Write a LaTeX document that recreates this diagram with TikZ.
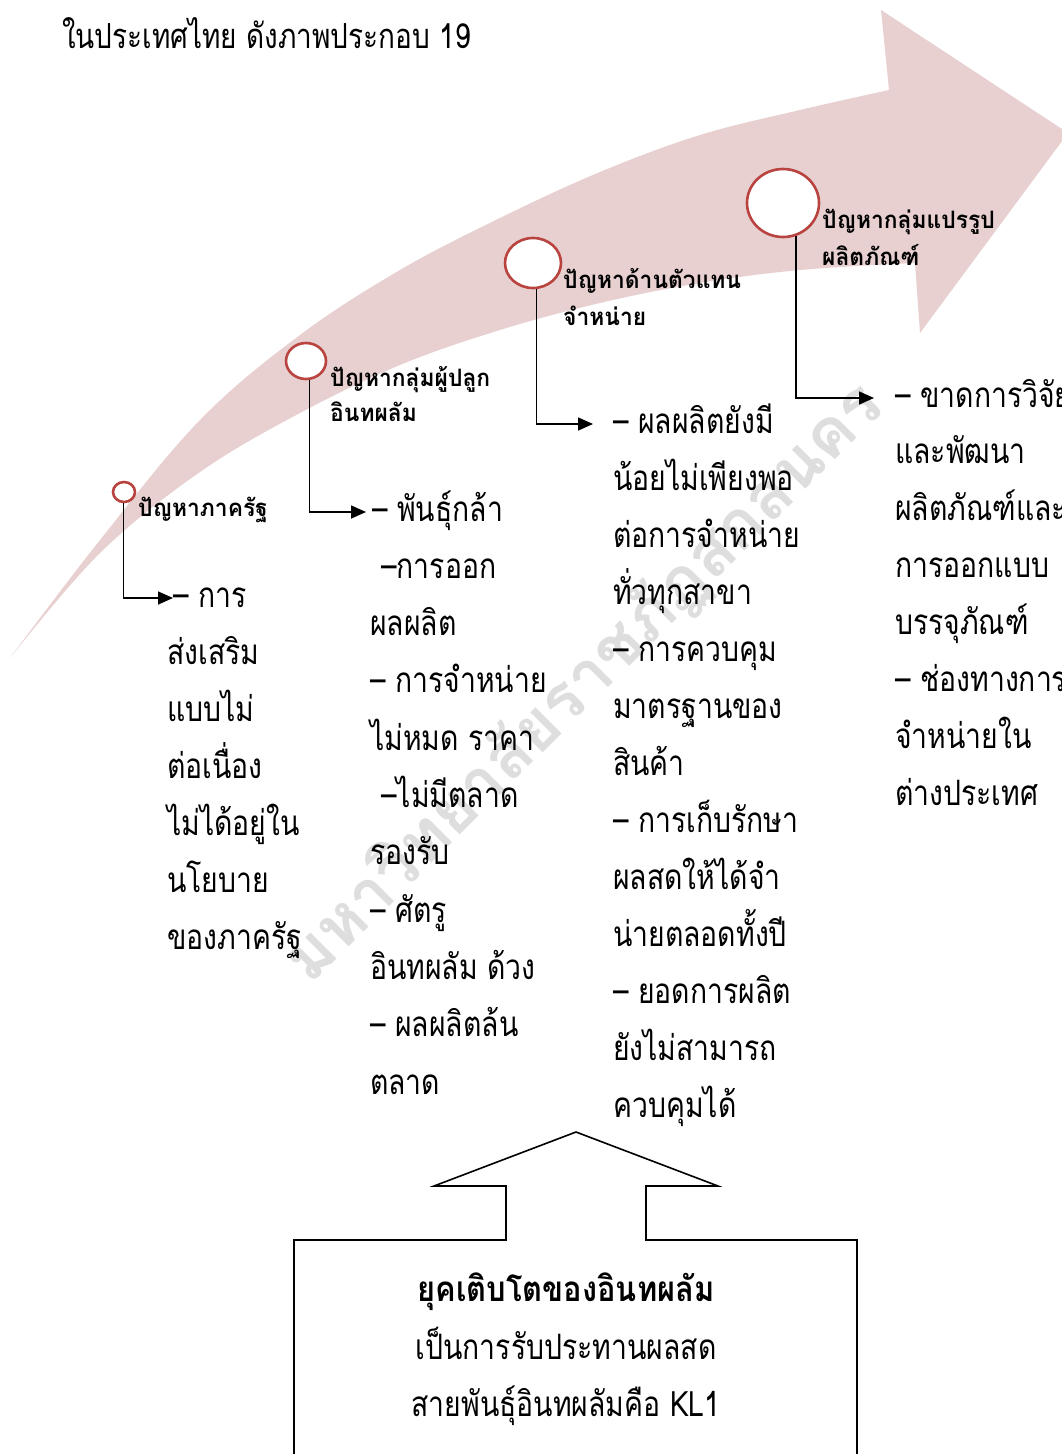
\documentclass[tikz,border=0pt]{standalone}
\usepackage{fontspec}
\usepackage{graphicx}
\usetikzlibrary{arrows.meta,shapes.geometric}
\newfontfamily\thai[Script=Thai,FakeStretch=0.81]{Loma}
\newfontfamily\thaibox[Script=Thai,FakeStretch=0.88]{Loma}
\newfontfamily\thailab[Script=Thai,FakeStretch=0.95]{Loma}
\newfontfamily\thaiwm[Script=Thai]{Loma}
\definecolor{bandpink}{HTML}{E8D0D1}
\definecolor{ringred}{HTML}{B8433F}
\tikzset{
  body/.style={font=\thai\fontsize{35}{40}\selectfont, anchor=base west, inner sep=0pt},
  lab/.style={font=\thailab\bfseries\fontsize{24}{28}\selectfont, anchor=base west, inner sep=0pt},
  boxtxt/.style={font=\thai\fontsize{35}{40}\selectfont, anchor=base, inner sep=0pt},
  ring/.style={ellipse, draw=ringred, line width=2.6pt, fill=white, inner sep=0pt},
  conn/.style={draw=black, line width=1.6pt, -{Triangle[length=15pt,width=13pt]}},
  outline/.style={draw=black, line width=1.6pt},
  wm/.style={font=\thaiwm\bfseries, text=black!13, inner sep=0pt}
}
\begin{document}
\begin{tikzpicture}[x=1pt,y=-1pt]
\clip (0,0) rectangle (1062,1454);
\fill[white] (0,0) rectangle (1062,1454);
% big curved arrow
\fill[bandpink] plot[smooth, tension=0.6] coordinates {(10,658) (100,540) (200,420) (300,335) (400,270) (500,218) (600,172) (700,135) (800,110) (889,90)}
  -- (881,10) -- (1068,133) -- (920,333) -- (915,263)
  -- plot[smooth, tension=0.6] coordinates {(915,263) (800,270) (700,283) (600,303) (500,330) (400,365) (300,413) (200,472) (100,553) (10,658)} -- cycle;
% watermark
\node[wm, rotate=45] (wm) at (584,683) {\resizebox{815pt}{!}{มหาวิทยาลัยราชภัฏสกลนคร}};
% title
\node[body, font=\thai\fontsize{34.5}{40}\selectfont] (title) at (62,48) {ในประเทศไทย ดังภาพประกอบ 19};
% rings
\node[ring, minimum width=22pt, minimum height=20pt] (k1) at (124,492) {};
\node[ring, minimum width=40pt, minimum height=36pt] (k2) at (306,361) {};
\node[ring, minimum width=56pt, minimum height=50pt] (k3) at (533,263) {};
\node[ring, minimum width=72pt, minimum height=68pt] (k4) at (783,203) {};
% labels
\node[lab] (l1) at (138,516) {ปัญหาภาครัฐ};
\node[lab] (l2a) at (330,386) {ปัญหากลุ่มผู้ปลูก};
\node[lab] (l2b) at (330,421) {อินทผลัม};
\node[lab] (l3a) at (563,288) {ปัญหาด้านตัวแทน};
\node[lab] (l3b) at (563,325) {จำหน่าย};
\node[lab] (l4a) at (822,228) {ปัญหากลุ่มแปรรูป};
\node[lab] (l4b) at (822,265) {ผลิตภัณฑ์};
% arrow ends
\coordinate (e1) at (173,598);
\coordinate (e2) at (366,512);
\coordinate (e3) at (593,424);
\coordinate (e4) at (874,398);
\draw[conn] (k1.-92) |- (e1);
\draw[conn] (k2.-79) |- (e2);
\draw[conn] (k3.-82) |- (e3);
\draw[conn] (k4.-69) |- (e4);
% column 1
\node[body] (a0) at (173,607) {– การ};
\foreach \t [count=\i] in {ส่งเสริม,แบบไม่,ต่อเนื่อง,ไม่ได้อยู่ใน,นโยบาย,ของภาครัฐ}
  \node[body] (a\i) at (167,{607+57*\i}) {\t};
% column 2
\foreach \t/\xx [count=\i from 0] in {{– พันธุ์กล้า}/372,{–การออก}/381,{ผลผลิต}/370,{– การจำหน่าย}/370,{ไม่หมด ราคา}/370,{–ไม่มีตลาด}/381,{รองรับ}/370,{– ศัตรู}/370,{อินทผลัม ด้วง}/370,{– ผลผลิตล้น}/370,{ตลาด}/370}
  \node[body] (b\i) at (\xx,{521+57.3*\i}) {\t};
% column 3
\foreach \t [count=\i from 0] in {{– ผลผลิตยังมี},{น้อยไม่เพียงพอ},{ต่อการจำหน่าย},{ทั่วทุกสาขา},{– การควบคุม},{มาตรฐานของ},{สินค้า},{– การเก็บรักษา},{ผลสดให้ได้จำ},{น่ายตลอดทั้งปี},{– ยอดการผลิต},{ยังไม่สามารถ},{ควบคุมได้}}
  \node[body] (c\i) at (613,{433+57*\i}) {\t};
% column 4
\foreach \t [count=\i from 0] in {{– ขาดการวิจัย},{และพัฒนา},{ผลิตภัณฑ์และ},{การออกแบบ},{บรรจุภัณฑ์},{– ช่องทางการ},{จำหน่ายใน},{ต่างประเทศ}}
  \node[body] (d\i) at (895,{407+56.9*\i}) {\t};
% bottom block arrow
\draw[outline] (294,1470) -- (294,1240) -- (506,1240) -- (506,1186) -- (434,1186) -- (576,1132) -- (718,1186) -- (646,1186) -- (646,1240) -- (857,1240) -- (857,1470);
\node[boxtxt, font=\thaibox\bfseries\fontsize{35}{40}\selectfont] (g1) at (566,1301) {ยุคเติบโตของอินทผลัม};
\node[boxtxt] (g2) at (566,1359) {เป็นการรับประทานผลสด};
\node[boxtxt] (g3) at (566,1416) {สายพันธุ์อินทผลัมคือ KL1};
\end{tikzpicture}
\end{document}
